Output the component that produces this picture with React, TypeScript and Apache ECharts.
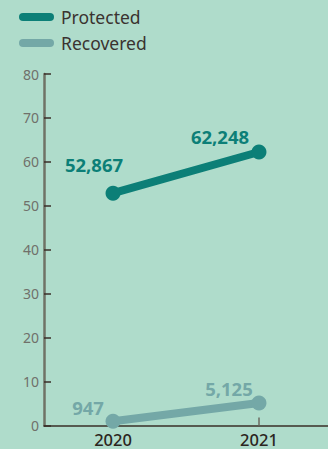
import React, { useEffect, useRef } from "react";
import * as echarts from "echarts";

const years = [2020, 2021];
const protectedValues = [52867, 62248];
const recoveredValues = [947, 5125];
const yTicks = [0, 10, 20, 30, 40, 50, 60, 70, 80];
const seriesNames = ["Protected", "Recovered"];

const BG = "#afdccb";
const C_PROT = "#0c7f77";
const C_REC = "#74a8a7";
const FONT = "'Noto Sans', 'Open Sans', sans-serif";

const fmt = (v: number) => v.toLocaleString("en-US");

export default function App() {
  const ref = useRef<HTMLDivElement>(null);
  useEffect(() => {
    if (!ref.current) return;
    const chart = echarts.init(ref.current, null, { renderer: "svg" });
    const capsule = "path://M4,0 H31 A4,4 0 0 1 31,8 H4 A4,4 0 0 1 4,0 Z";
    const protOffsets = [[-19, -29], [-39, -15]];
    const recOffsets = [[-25, -14], [-30, -14]];
    const mk = (vals: number[], offs: number[][]) =>
      vals.map((v, i) => ({
        value: [years[i], v / 1000],
        label: { offset: offs[i] },
      }));
    chart.setOption({
      animation: false,
      backgroundColor: BG,
      legend: {
        orient: "vertical",
        left: 14,
        top: 3,
        itemWidth: 35,
        itemHeight: 8,
        itemGap: 8,
        icon: capsule,
        data: seriesNames,
        textStyle: { color: "#3a3330", fontSize: 17.5, fontFamily: FONT, padding: [0, 0, 0, 2] },
      },
      grid: { left: 44, right: 0, top: 74, bottom: 23.5, containLabel: false },
      xAxis: {
        type: "value",
        min: 2019.527,
        max: 2021.473,
        axisLine: { show: true, lineStyle: { color: "#3a2f28", width: 1.5 } },
        axisTick: {
          show: true,
          inside: true,
          length: 8,
          customValues: years,
          lineStyle: { color: "#6b6b60", width: 1.5 },
        },
        axisLabel: {
          customValues: years,
          formatter: (v: number) => String(v),
          color: "#2b2520",
          fontSize: 16.5,
          fontWeight: 500,
          fontFamily: FONT,
          margin: 5,
        },
        splitLine: { show: false },
      },
      yAxis: {
        type: "value",
        min: 0,
        max: 80,
        interval: 10,
        axisLine: { show: true, lineStyle: { color: "#6f7366", width: 2.5 } },
        axisTick: { show: true, inside: true, length: 7, lineStyle: { color: "#3a2f28", width: 1.5 } },
        axisLabel: {
          color: "#70706a",
          fontSize: 14,
          fontFamily: FONT,
          margin: 5,
          formatter: (v: number) => (yTicks.includes(v) ? String(v) : ""),
        },
        splitLine: { show: false },
      },
      series: [
        {
          name: seriesNames[0],
          type: "line",
          data: mk(protectedValues, protOffsets),
          symbol: "circle",
          symbolSize: 15,
          lineStyle: { color: C_PROT, width: 8, cap: "round" },
          itemStyle: { color: C_PROT },
          label: {
            show: true,
            position: "inside",
            align: "center",
            verticalAlign: "middle",
            formatter: (p: any) => fmt(protectedValues[p.dataIndex]),
            color: C_PROT,
            fontSize: 18.5,
            fontWeight: "bold",
            fontFamily: FONT,
          },
          z: 3,
        },
        {
          name: seriesNames[1],
          type: "line",
          data: mk(recoveredValues, recOffsets),
          symbol: "circle",
          symbolSize: 15,
          lineStyle: { color: C_REC, width: 8, cap: "round" },
          itemStyle: { color: C_REC },
          label: {
            show: true,
            position: "inside",
            align: "center",
            verticalAlign: "middle",
            formatter: (p: any) => fmt(recoveredValues[p.dataIndex]),
            color: C_REC,
            fontSize: 18.5,
            fontWeight: "bold",
            fontFamily: FONT,
          },
          z: 4,
        },
      ],
    });
    return () => chart.dispose();
  }, []);
  return (
    <div
      ref={ref}
      style={{ position: "absolute", left: 0, top: 0, width: 328, height: 449 }}
    />
  );
}
